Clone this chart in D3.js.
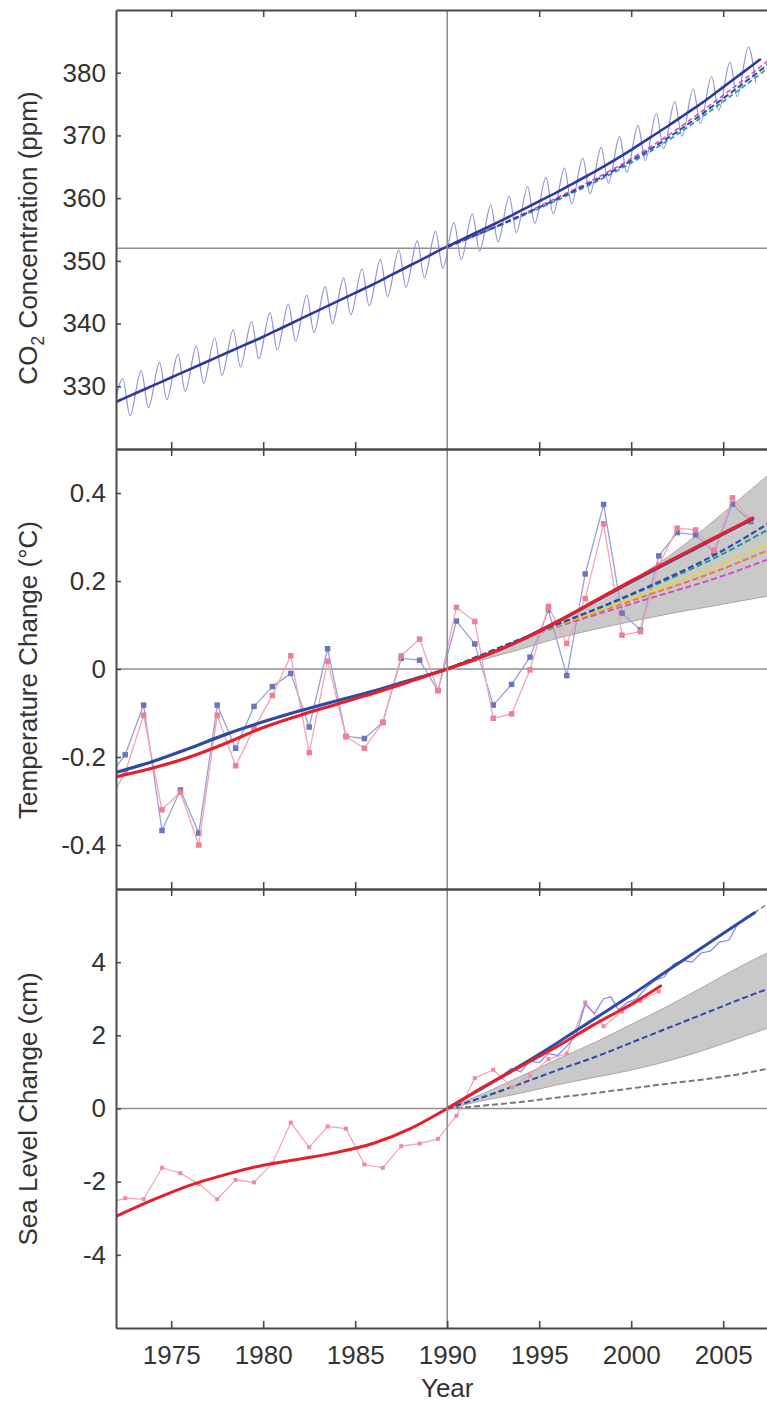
<!DOCTYPE html>
<html><head><meta charset="utf-8">
<script src="https://cdn.jsdelivr.net/npm/d3@7"></script>
<style>body{margin:0;background:#fff} svg{display:block}</style>
</head><body>
<script>
// ---------------- DATA ----------------
const xTickYears = [1975, 1980, 1985, 1990, 1995, 2000, 2005];
const co2Ticks = [330, 340, 350, 360, 370, 380];
const tempTicks = [-0.4, -0.2, 0, 0.2, 0.4];
const seaTicks = [-4, -2, 0, 2, 4];

// CO2 (ppm): smoothed trend at Jan 1 of each year
const co2Years = [1972,1973,1974,1975,1976,1977,1978,1979,1980,1981,1982,1983,1984,1985,1986,1987,1988,1989,1990,1991,1992,1993,1994,1995,1996,1997,1998,1999,2000,2001,2002,2003,2004,2005,2006,2007];
const co2Trend = [327.5,328.8,330.1,331.4,332.7,334.0,335.3,336.6,337.9,339.3,340.7,342.1,343.5,344.9,346.3,347.8,349.3,350.8,352.3,353.7,355.1,356.5,358.0,359.5,361.0,362.6,364.2,365.9,367.7,369.6,371.5,373.5,375.5,377.7,379.9,382.1];
// seasonal maxima (~May) and minima (~Oct) of the monthly record
const co2PeakTimes = [1972.37,1973.37,1974.37,1975.37,1976.37,1977.37,1978.37,1979.37,1980.37,1981.37,1982.37,1983.37,1984.37,1985.37,1986.37,1987.37,1988.37,1989.37,1990.37,1991.37,1992.37,1993.37,1994.37,1995.37,1996.37,1997.37,1998.37,1999.37,2000.37,2001.37,2002.37,2003.37,2004.37,2005.37,2006.37];
const co2Peak = [331.2,332.5,333.8,335.1,336.4,337.7,339.0,340.3,341.7,343.1,344.5,345.9,347.3,348.7,350.2,351.7,353.2,354.7,356.1,357.5,358.9,360.3,361.8,363.3,364.8,366.4,368.1,369.8,371.6,373.5,375.4,377.4,379.4,381.7,384.1];
const co2TroughTimes = [1971.76,1972.76,1973.76,1974.76,1975.76,1976.76,1977.76,1978.76,1979.76,1980.76,1981.76,1982.76,1983.76,1984.76,1985.76,1986.76,1987.76,1988.76,1989.76,1990.76,1991.76,1992.76,1993.76,1994.76,1995.76,1996.76,1997.76,1998.76,1999.76,2000.76,2001.76,2002.76,2003.76,2004.76,2005.76,2006.76];
const co2Trough = [324.2,325.3,326.6,327.9,329.2,330.5,331.8,333.1,334.4,335.8,337.2,338.6,340.0,341.4,342.8,344.3,345.8,347.3,348.8,350.2,351.6,353.0,354.5,356.0,357.5,359.1,360.7,362.4,364.1,366.0,367.9,369.9,371.9,374.0,376.2,378.5];
const co2ProjYears = [1990, 1993, 1996, 1999, 2002, 2005, 2008];
const co2ProjBlue = [352.2, 355.9, 359.9, 364.3, 369.6, 375.9, 382.6];
const co2ProjTeal = [352.2, 355.8, 359.7, 364.0, 369.2, 375.4, 382.0];
const co2ProjMagenta = [352.2, 356.0, 360.1, 364.6, 370.0, 376.4, 383.2];
const co2Ref = 352;

// Temperature change (°C), annual means plotted at mid-year
const tempYears = [1971.5,1972.5,1973.5,1974.5,1975.5,1976.5,1977.5,1978.5,1979.5,1980.5,1981.5,1982.5,1983.5,1984.5,1985.5,1986.5,1987.5,1988.5,1989.5,1990.5,1991.5,1992.5,1993.5,1994.5,1995.5,1996.5,1997.5,1998.5,1999.5,2000.5,2001.5,2002.5,2003.5,2004.5,2005.5,2006.5];
const tempBlue = [-0.25,-0.195,-0.082,-0.367,-0.275,-0.373,-0.082,-0.18,-0.085,-0.04,-0.01,-0.132,0.046,-0.153,-0.158,-0.121,0.024,0.02,-0.049,0.109,0.057,-0.082,-0.035,0.027,0.134,-0.015,0.216,0.374,0.127,0.089,0.257,0.31,0.305,0.265,0.375,0.335];
const tempRed = [-0.31,-0.235,-0.105,-0.32,-0.28,-0.40,-0.105,-0.22,-0.135,-0.06,0.03,-0.19,0.018,-0.154,-0.18,-0.122,0.03,0.068,-0.049,0.14,0.108,-0.112,-0.102,-0.002,0.142,0.058,0.16,0.33,0.077,0.085,0.236,0.32,0.316,0.27,0.389,0.34];
const tempTrendYears = [1972,1974,1976,1978,1980,1982,1984,1986,1988,1990,1992,1994,1996,1998,2000,2002,2004,2006,2006.6];
const tempTrendBlue = [-0.235,-0.21,-0.18,-0.148,-0.12,-0.095,-0.072,-0.05,-0.025,0,0.03,0.066,0.108,0.153,0.198,0.242,0.285,0.328,0.341];
const tempTrendRed = [-0.245,-0.225,-0.2,-0.168,-0.133,-0.105,-0.08,-0.055,-0.028,0,0.03,0.065,0.108,0.154,0.2,0.244,0.287,0.33,0.343];
const tempBandYears = [1990,1992,1994,1996,1998,2000,2002,2004,2006,2008];
const tempBandHigh = [0,0.03,0.065,0.105,0.15,0.2,0.255,0.32,0.39,0.46];
const tempBandLow = [0,0.022,0.045,0.07,0.09,0.108,0.125,0.14,0.155,0.17];
const tempProjYears = [1990, 1995, 2000, 2005, 2008];
const tempProjBlue = [0, 0.085, 0.17, 0.27, 0.345];
const tempProjTeal = [0, 0.085, 0.168, 0.262, 0.33];
const tempProjYellow = [0, 0.084, 0.16, 0.24, 0.295];
const tempProjOrange = [0, 0.083, 0.155, 0.228, 0.28];
const tempProjMagenta = [0, 0.082, 0.148, 0.212, 0.258];

// Sea level change (cm)
const seaTideYears = [1971.5,1972.5,1973.5,1974.5,1975.5,1976.5,1977.5,1978.5,1979.5,1980.5,1981.5,1982.5,1983.5,1984.5,1985.5,1986.5,1987.5,1988.5,1989.5,1990.5,1991.5,1992.5,1993.5,1994.5,1995.5,1996.5,1997.5,1998.5,1999.5,2000.5,2001.5];
const seaTide = [-2.6,-2.45,-2.48,-1.62,-1.77,-2.06,-2.48,-1.95,-2.02,-1.5,-0.385,-1.06,-0.49,-0.55,-1.53,-1.62,-1.03,-0.96,-0.83,-0.2,0.83,1.06,0.58,0.9,1.35,1.5,2.9,2.25,2.65,2.94,3.2];
const seaSatYears = [1993.0,1993.5,1994.0,1994.5,1995.0,1995.5,1996.0,1996.5,1997.0,1997.5,1998.0,1998.5,1998.9,1999.3,1999.8,2000.3,2000.8,2001.3,2001.8,2002.3,2002.8,2003.3,2003.8,2004.3,2004.8,2005.3,2005.8,2006.3,2006.7];
const seaSat = [0.9,1.1,1.0,1.3,1.25,1.5,1.45,1.7,2.0,2.85,2.6,3.0,3.05,2.7,2.9,3.0,3.3,3.5,3.6,3.95,4.05,4.0,4.25,4.3,4.55,4.6,5.05,5.25,5.35];
const seaRedTrendYears = [1972,1974,1976,1978,1980,1982,1984,1986,1988,1990,1992,1994,1996,1998,2000,2001.6];
const seaRedTrend = [-2.95,-2.5,-2.1,-1.8,-1.55,-1.38,-1.2,-0.95,-0.55,0,0.6,1.15,1.7,2.3,2.85,3.35];
const seaBlueTrendYears = [1990,1992,1994,1996,1998,2000,2002,2004,2006,2006.7];
const seaBlueTrend = [0,0.58,1.18,1.8,2.45,3.1,3.78,4.45,5.12,5.35];
const seaExtYears = [2006.7, 2008];
const seaExt = [5.35, 5.8];
const seaBandYears = [1990,1992,1994,1996,1998,2000,2002,2004,2006,2008];
const seaBandHigh = [0,0.42,0.88,1.35,1.8,2.3,2.8,3.35,3.9,4.4];
const seaBandLow = [0,0.22,0.42,0.65,0.85,1.05,1.3,1.6,1.95,2.3];
const seaProjMid = [0,0.32,0.68,1.05,1.4,1.8,2.2,2.6,3.0,3.38];
const seaProjLow = [0,0.08,0.18,0.3,0.42,0.55,0.68,0.8,0.95,1.15];

// ---------------- CHART ----------------
const W = 767, H = 1403;
const FONT = "'Liberation Sans', Arial, Helvetica, sans-serif";
const FS = "26px";
const svg = d3.select("body").append("svg").attr("width", W).attr("height", H)
  .style("font-family", FONT);

const x = d3.scaleLinear().domain([1972, 2008]).range([116, 778.4]);
const panels = [
  {top: 10, bottom: 449, domain: [320, 390], ticks: co2Ticks},
  {top: 449, bottom: 889, domain: [-0.5, 0.5], ticks: tempTicks},
  {top: 889, bottom: 1328, domain: [-6, 6], ticks: seaTicks}
];
panels.forEach((p, i) => {
  p.y = d3.scaleLinear().domain(p.domain).range([p.bottom, p.top]);
  svg.append("clipPath").attr("id", "clip" + i).append("rect")
    .attr("x", 117).attr("y", p.top + 1).attr("width", W).attr("height", p.bottom - p.top - 2);
  p.g = svg.append("g").attr("clip-path", `url(#clip${i})`);
});

const zip = (xs, ys) => xs.map((v, i) => [v, ys[i]]);
function line(p, pts, stroke, width, opts = {}) {
  const gen = d3.line().x(d => x(d[0])).y(d => p.y(d[1])).curve(opts.curve || d3.curveLinear);
  const path = p.g.append("path").datum(pts).attr("d", gen)
    .attr("fill", "none").attr("stroke", stroke).attr("stroke-width", width)
    .attr("stroke-linejoin", "round").attr("stroke-linecap", "round");
  if (opts.dash) path.attr("stroke-dasharray", opts.dash).attr("stroke-linecap", "butt");
  return path;
}
function band(p, xs, lo, hi) {
  const gen = d3.area().x(d => x(d[0])).y0(d => p.y(d[1])).y1(d => p.y(d[2])).curve(d3.curveMonotoneX);
  p.g.append("path").datum(xs.map((v, i) => [v, lo[i], hi[i]])).attr("d", gen)
    .attr("fill", "#c9c9c9").attr("stroke", "#a8a8a8").attr("stroke-width", 1);
}
function squares(p, pts, fill, size) {
  p.g.append("g").selectAll("rect").data(pts).join("rect")
    .attr("x", d => x(d[0]) - size / 2).attr("y", d => p.y(d[1]) - size / 2)
    .attr("width", size).attr("height", size).attr("fill", fill);
}
function refLine(p, yv) {
  p.g.append("line").attr("x1", 116).attr("x2", W).attr("y1", p.y(yv)).attr("y2", p.y(yv))
    .attr("stroke", "#8e8e8e").attr("stroke-width", 1.6);
}
const P1 = panels[0], P2 = panels[1], P3 = panels[2];
const mono = d3.curveMonotoneX;

// Panel 1 : CO2
refLine(P1, co2Ref);
const seasonal = zip(co2PeakTimes, co2Peak).concat(zip(co2TroughTimes, co2Trough))
  .sort((a, b) => a[0] - b[0]);
line(P1, seasonal, "#8f92dc", 1.2, {curve: mono});
line(P1, zip(co2ProjYears, co2ProjTeal), "#2aa39a", 1.8, {dash: "5,3", curve: mono});
line(P1, zip(co2ProjYears, co2ProjMagenta), "#d04fc8", 1.6, {dash: "5,3", curve: mono});
line(P1, zip(co2ProjYears, co2ProjBlue), "#3348a8", 2, {dash: "6,3", curve: mono});
line(P1, zip(co2Years, co2Trend), "#2e3a98", 2.6, {curve: mono});

// Panel 2 : temperature
band(P2, tempBandYears, tempBandLow, tempBandHigh);
refLine(P2, 0);
line(P2, zip(tempYears, tempBlue), "#98a0d8", 1.3);
squares(P2, zip(tempYears, tempBlue), "#6b76bb", 5.5);
line(P2, zip(tempYears, tempRed), "#f4a4b4", 1.3);
squares(P2, zip(tempYears, tempRed), "#f07e98", 5.5);
line(P2, zip(tempProjYears, tempProjMagenta), "#d050c8", 2, {dash: "6,3", curve: mono});
line(P2, zip(tempProjYears, tempProjOrange), "#f07840", 2, {dash: "6,3", curve: mono});
line(P2, zip(tempProjYears, tempProjYellow), "#e6d628", 2, {dash: "6,3", curve: mono});
line(P2, zip(tempProjYears, tempProjTeal), "#1e9a86", 2, {dash: "6,3", curve: mono});
line(P2, zip(tempProjYears, tempProjBlue), "#2e4aa8", 2.2, {dash: "6,3", curve: mono});
line(P2, zip(tempTrendYears, tempTrendBlue), "#2d4ba6", 3.2, {curve: mono});
line(P2, zip(tempTrendYears, tempTrendRed), "#e5202c", 3.2, {curve: mono});

// Panel 3 : sea level
band(P3, seaBandYears, seaBandLow, seaBandHigh);
refLine(P3, 0);
line(P3, zip(seaBandYears, seaProjLow), "#777", 2, {dash: "6,3", curve: mono});
line(P3, zip(seaBandYears, seaProjMid), "#2e48a8", 2, {dash: "6,3", curve: mono});
line(P3, zip(seaTideYears, seaTide), "#f4a0b0", 1.2);
squares(P3, zip(seaTideYears, seaTide), "#f08aa0", 4);
line(P3, zip(seaSatYears, seaSat), "#7e88e0", 1.2);
line(P3, zip(seaExtYears, seaExt), "#888", 1.6, {dash: "5,3"});
line(P3, zip(seaBlueTrendYears, seaBlueTrend), "#2d4ba6", 3, {curve: mono});
line(P3, zip(seaRedTrendYears, seaRedTrend), "#e5202c", 3, {curve: mono});

// 1990 vertical reference
svg.append("line").attr("x1", x(1990)).attr("x2", x(1990)).attr("y1", 10).attr("y2", 1328)
  .attr("stroke", "#8e8e8e").attr("stroke-width", 1.6);

// ---------------- AXES ----------------
function style(g) {
  g.select(".domain").attr("stroke", "#4a4a4a").attr("stroke-width", 2);
  g.selectAll(".tick line").attr("stroke", "#4a4a4a").attr("stroke-width", 1.6);
  g.selectAll(".tick text").attr("fill", "#333").style("font-size", FS).style("font-family", FONT);
}
const fmt = d => d === 0 ? "0" : String(d);
panels.forEach((p, i) => {
  svg.append("g").attr("transform", "translate(116,0)")
    .call(d3.axisLeft(p.y).tickValues(p.ticks).tickSize(-5).tickSizeOuter(0).tickPadding(10).tickFormat(fmt))
    .call(style);
  svg.append("g").attr("transform", `translate(0,${p.top})`)
    .call(d3.axisTop(x).tickValues(xTickYears.filter(v => v !== 1990)).tickSize(-7).tickSizeOuter(0).tickFormat(""))
    .call(style);
  const bottomAxis = d3.axisBottom(x).tickSize(-7).tickSizeOuter(0).tickPadding(18);
  if (i < 2) bottomAxis.tickFormat("").tickValues(xTickYears.filter(v => v !== 1990));
  else bottomAxis.tickValues(xTickYears).tickFormat(d => String(d));
  svg.append("g").attr("transform", `translate(0,${p.bottom})`).call(bottomAxis).call(style);
});

// axis titles
const titleStyle = t => t.attr("fill", "#333").style("font-size", FS).attr("text-anchor", "middle");
const t1 = svg.append("text").attr("transform", "translate(37,238) rotate(-90)").call(titleStyle);
t1.append("tspan").text("CO");
t1.append("tspan").text("2").attr("dy", 7).style("font-size", "18px");
t1.append("tspan").text(" Concentration (ppm)").attr("dy", -7);
svg.append("text").attr("transform", "translate(37,670) rotate(-90)").call(titleStyle).text("Temperature Change (°C)");
svg.append("text").attr("transform", "translate(37,1109) rotate(-90)").call(titleStyle).text("Sea Level Change (cm)");
svg.append("text").attr("x", x(1990)).attr("y", 1397).call(titleStyle).text("Year");
</script>
</body></html>
